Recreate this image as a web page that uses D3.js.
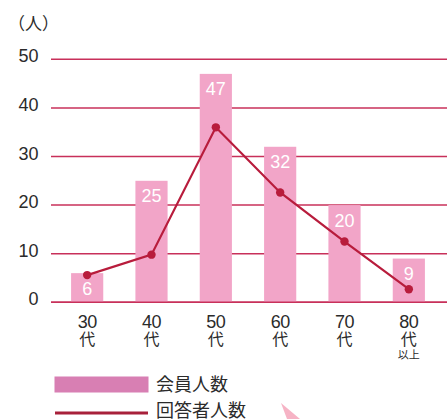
<!DOCTYPE html>
<html>
<head>
<meta charset="utf-8">
<script src="https://cdn.jsdelivr.net/npm/d3@7/dist/d3.min.js"></script>
<style>
  html, body { margin: 0; padding: 0; background: #fff; }
  svg { display: block; }
  text { font-family: "Liberation Sans", "Noto Sans CJK JP", sans-serif; }
</style>
</head>
<body>
<svg id="chart" width="447" height="419"></svg>
<script>
// Age groups (decade label, suffix, optional note)
const ageGroups = ["30", "40", "50", "60", "70", "80"];
const ageNotes = ["", "", "", "", "", "以上"];
// Members per age group (bars)
const members = [6, 25, 47, 32, 20, 9];
// Respondents per age group (line)
const respondents = [5.6, 9.8, 36, 22.6, 12.5, 2.7];
// Y axis ticks
const yTicks = [0, 10, 20, 30, 40, 50];

const svg = d3.select("#chart");

const x = d3.scaleBand()
  .domain(ageGroups)
  .range([55, 441])
  .paddingInner(0.5)
  .paddingOuter(0.25);

const y = d3.scaleLinear()
  .domain([0, 50])
  .range([302.3, 59.3]);

const gridColor = "#c8305a";
const barColor = "#f2a5c8";
const lineColor = "#b81c3c";
const textColor = "#2b2b2b";

// unit label
svg.append("text")
  .attr("x", 8).attr("y", 30)
  .attr("font-size", 17)
  .attr("fill", textColor)
  .style("font-family", "'Noto Sans CJK JP', sans-serif")
  .text("（人）");

// gridlines and tick labels
const grid = svg.append("g");
grid.selectAll("line")
  .data(yTicks)
  .join("line")
  .attr("x1", 51).attr("x2", 447)
  .attr("y1", d => y(d)).attr("y2", d => y(d))
  .attr("stroke", gridColor)
  .attr("stroke-width", 1.5);

grid.selectAll("text")
  .data(yTicks)
  .join("text")
  .attr("x", 38.5)
  .attr("y", d => y(d) + 3)
  .attr("text-anchor", "end")
  .attr("font-size", 18)
  .attr("fill", textColor)
  .text(d => d);

// bars
svg.append("g").selectAll("rect")
  .data(members)
  .join("rect")
  .attr("x", (d, i) => x(ageGroups[i]))
  .attr("width", x.bandwidth())
  .attr("y", d => y(d))
  .attr("height", d => y(0) - y(d))
  .attr("fill", barColor);

// redraw baseline over bars
svg.append("line")
  .attr("x1", 51).attr("x2", 447)
  .attr("y1", y(0)).attr("y2", y(0))
  .attr("stroke", gridColor)
  .attr("stroke-width", 1.5);

// bar value labels
svg.append("g").selectAll("text")
  .data(members)
  .join("text")
  .attr("x", (d, i) => x(ageGroups[i]) + x.bandwidth() / 2)
  .attr("y", d => y(d) + 21.5)
  .attr("text-anchor", "middle")
  .attr("font-size", 18)
  .attr("fill", "#fff")
  .text(d => d);

// respondents line
const line = d3.line()
  .x((d, i) => x(ageGroups[i]) + x.bandwidth() / 2)
  .y(d => y(d));

svg.append("path")
  .datum(respondents)
  .attr("d", line)
  .attr("fill", "none")
  .attr("stroke", lineColor)
  .attr("stroke-width", 2.2);

svg.append("g").selectAll("circle")
  .data(respondents)
  .join("circle")
  .attr("cx", (d, i) => x(ageGroups[i]) + x.bandwidth() / 2)
  .attr("cy", d => y(d))
  .attr("r", 4.2)
  .attr("fill", lineColor);

// x axis labels
const xl = svg.append("g");
ageGroups.forEach((g, i) => {
  const cx = x(g) + x.bandwidth() / 2;
  xl.append("text")
    .attr("x", cx).attr("y", 328)
    .attr("text-anchor", "middle")
    .attr("font-size", 18)
    .attr("letter-spacing", -0.5)
    .attr("fill", textColor)
    .text(g);
  xl.append("text")
    .attr("x", cx).attr("y", 344.5)
    .attr("text-anchor", "middle")
    .attr("font-size", 16)
    .attr("fill", textColor)
    .style("font-family", "'Noto Sans CJK JP', sans-serif")
    .text("代");
  if (ageNotes[i]) {
    xl.append("text")
      .attr("x", cx).attr("y", 359)
      .attr("text-anchor", "middle")
      .attr("font-size", 11)
      .attr("fill", textColor)
      .style("font-family", "'Noto Sans CJK JP', sans-serif")
      .text(ageNotes[i]);
  }
});

// legend
const legend = svg.append("g");
legend.append("rect")
  .attr("x", 54.5).attr("y", 376.5)
  .attr("width", 94).attr("height", 16)
  .attr("fill", "#d87fb3");
legend.append("text")
  .attr("x", 156).attr("y", 390.5)
  .attr("font-size", 18)
  .attr("fill", textColor)
  .style("font-family", "'Noto Sans CJK JP', sans-serif")
  .text("会員人数");
legend.append("line")
  .attr("x1", 55).attr("x2", 148)
  .attr("y1", 413).attr("y2", 413)
  .attr("stroke", "#a8203a")
  .attr("stroke-width", 3);
legend.append("text")
  .attr("x", 156).attr("y", 417)
  .attr("font-size", 18)
  .attr("fill", textColor)
  .style("font-family", "'Noto Sans CJK JP', sans-serif")
  .text("回答者人数");

// small decorative pointer near the bottom
svg.append("path")
  .attr("d", "M281,403 L300,419 L287,419 Z")
  .attr("fill", "#f4a0b6")
  .attr("opacity", 0.8);
</script>
</body>
</html>
